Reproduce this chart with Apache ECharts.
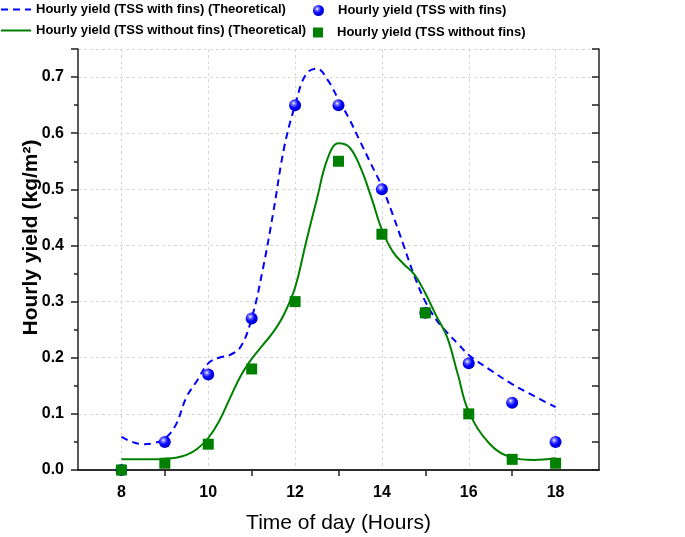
<!DOCTYPE html>
<html>
<head>
<meta charset="utf-8">
<script src="https://cdn.jsdelivr.net/npm/echarts@6/dist/echarts.min.js"></script>
<style>html,body{margin:0;padding:0;background:#fff}#c{width:685px;height:537px}</style>
</head>
<body>
<div id="c"></div>
<script>
// ---- data ----
const hours = [8, 9, 10, 11, 12, 13, 14, 15, 16, 17, 18];
const yieldWithFins = [0, 0.05, 0.17, 0.27, 0.65, 0.65, 0.50, 0.28, 0.19, 0.12, 0.05];
const yieldWithoutFins = [0, 0.012, 0.046, 0.18, 0.30, 0.55, 0.42, 0.28, 0.10, 0.019, 0.012];

const theoHours = [8, 8.25, 8.5, 8.75, 9, 9.25, 9.5, 9.75, 10, 10.25, 10.5, 10.75, 11, 11.25, 11.5, 11.75,
  12, 12.25, 12.5, 12.75, 13, 13.25, 13.5, 13.75, 14, 14.25, 14.5, 14.75, 15, 15.25, 15.5, 15.75,
  16, 16.5, 17, 17.5, 18];
const theoWithFins = [0.059, 0.050, 0.046, 0.048, 0.056, 0.08, 0.13, 0.16, 0.19, 0.20, 0.205, 0.22,
  0.27, 0.355, 0.46, 0.575, 0.65, 0.705, 0.715, 0.695, 0.66, 0.625, 0.585, 0.545, 0.505, 0.455,
  0.40, 0.345, 0.30, 0.268, 0.245, 0.225, 0.205, 0.178, 0.153, 0.132, 0.112];
const theoWithoutFins = [0.019, 0.019, 0.019, 0.019, 0.02, 0.022, 0.027, 0.038, 0.057, 0.087, 0.128,
  0.168, 0.198, 0.222, 0.246, 0.278, 0.325, 0.405, 0.482, 0.555, 0.582, 0.575, 0.54, 0.487, 0.428,
  0.389, 0.367, 0.348, 0.315, 0.275, 0.237, 0.170, 0.104, 0.045, 0.022, 0.018, 0.021];

const xLabelValues = [8, 10, 12, 14, 16, 18];
const xTickValues = [9, 11, 13, 15, 17];

const names = {
  theoFins: 'Hourly yield (TSS with fins) (Theoretical)',
  theoNoFins: 'Hourly yield (TSS without fins) (Theoretical)',
  fins: 'Hourly yield (TSS with fins)',
  noFins: 'Hourly yield (TSS without fins)'
};

// ---- chart ----
const FONT = 'Liberation Sans, Arial, sans-serif';
const pair = (xs, ys) => xs.map((x, i) => [x, ys[i]]);
const sphere = {
  type: 'radial', x: 0.38, y: 0.35, r: 0.65,
  colorStops: [
    { offset: 0, color: '#ffffff' },
    { offset: 0.22, color: '#7777ff' },
    { offset: 0.6, color: '#0000ff' },
    { offset: 1, color: '#0000c8' }
  ]
};
const legendText = { fontFamily: FONT, fontWeight: 'bold', fontSize: 13, color: '#000' };
const axisLineStyle = { color: '#222', width: 1.5 };
const chart = echarts.init(document.getElementById('c'), null, { renderer: 'canvas' });
chart.setOption({
  animation: false,
  backgroundColor: '#fff',
  grid: { left: 78, right: 86, top: 49, bottom: 67, containLabel: false, outerBoundsMode: 'none' },
  legend: [
    { data: [names.theoFins], left: 0, top: 3, padding: 0, itemWidth: 30, itemHeight: 12,
      itemStyle: { opacity: 0 }, textStyle: legendText },
    { data: [names.theoNoFins], left: 0, top: 24, padding: 0, itemWidth: 30, itemHeight: 12,
      itemStyle: { opacity: 0 }, textStyle: legendText },
    { data: [names.fins], left: 313, top: 4, padding: 0, itemWidth: 11, itemHeight: 11,
      textStyle: Object.assign({ padding: [0, 0, 0, 9] }, legendText) },
    { data: [names.noFins], left: 313, top: 26, padding: 0, itemWidth: 10, itemHeight: 10,
      textStyle: Object.assign({ padding: [0, 0, 0, 9] }, legendText) }
  ],
  xAxis: [
    {
      type: 'value', position: 'bottom', min: 7, max: 19, interval: 1,
      name: 'Time of day (Hours)', nameLocation: 'middle', nameGap: 43, nameMoveOverlap: false,
      nameTextStyle: { fontFamily: FONT, fontSize: 21, color: '#000' },
      axisLine: { lineStyle: axisLineStyle },
      axisTick: { show: true, inside: false, length: 6, customValues: xTickValues, lineStyle: axisLineStyle },
      axisLabel: { customValues: xLabelValues, margin: 15, fontFamily: FONT, fontWeight: 'bold', fontSize: 16, color: '#000' },
      splitLine: { show: false }
    },
    {
      type: 'value', position: 'top', min: 7, max: 19, interval: 1,
      axisLine: { lineStyle: axisLineStyle },
      axisTick: { show: true, inside: true, length: 6, customValues: xTickValues, lineStyle: axisLineStyle },
      axisLabel: { show: false },
      splitLine: { show: false }
    },
    {
      type: 'value', position: 'bottom', min: 7, max: 19, interval: 1,
      axisLine: { show: false },
      axisTick: { show: false, customValues: xLabelValues },
      axisLabel: { show: false, customValues: xLabelValues },
      splitLine: { show: true, lineStyle: { color: '#d8d8d8', type: [3, 3], width: 1 } }
    }
  ],
  yAxis: [
    {
      type: 'value', position: 'left', min: 0, max: 0.75, interval: 0.1,
      name: 'Hourly yield (kg/m\u00B2)', nameLocation: 'middle', nameGap: 36, nameMoveOverlap: false,
      nameTextStyle: { fontFamily: FONT, fontWeight: 'bold', fontSize: 21, color: '#000', padding: [0, 0, 0, 44] },
      axisLine: { show: true, lineStyle: axisLineStyle },
      axisTick: { show: true, inside: false, length: 7, lineStyle: axisLineStyle },
      minorTick: { show: true, splitNumber: 2, length: 4, lineStyle: axisLineStyle },
      axisLabel: {
        margin: 14, fontFamily: FONT, fontWeight: 'bold', fontSize: 16, color: '#000', showMaxLabel: false,
        formatter: v => (Math.abs(v * 10 - Math.round(v * 10)) < 1e-6 ? v.toFixed(1) : '')
      },
      splitLine: { show: true, lineStyle: { color: '#d8d8d8', type: [3, 3], width: 1 } }
    },
    {
      type: 'value', position: 'right', min: 0, max: 0.75, interval: 0.05,
      axisLine: { show: true, lineStyle: axisLineStyle },
      axisTick: { show: true, inside: true, length: 7, lineStyle: axisLineStyle },
      axisLabel: { show: false },
      splitLine: { show: false }
    }
  ],
  series: [
    {
      name: names.theoFins, type: 'line', xAxisIndex: 0, yAxisIndex: 0,
      data: pair(theoHours, theoWithFins), smooth: 0.4, symbol: 'none', showSymbol: false,
      lineStyle: { color: '#0000ff', width: 2, type: [7, 5] }, itemStyle: { color: '#0000ff' }, z: 3
    },
    {
      name: names.theoNoFins, type: 'line', xAxisIndex: 0, yAxisIndex: 0,
      data: pair(theoHours, theoWithoutFins), smooth: 0.4, symbol: 'none', showSymbol: false,
      lineStyle: { color: '#008000', width: 2, type: 'solid' }, itemStyle: { color: '#008000' }, z: 3
    },
    {
      name: names.fins, type: 'scatter', xAxisIndex: 0, yAxisIndex: 0,
      data: pair(hours, yieldWithFins), symbol: 'circle', symbolSize: 12,
      itemStyle: { color: sphere, opacity: 1 }, z: 4
    },
    {
      name: names.noFins, type: 'scatter', xAxisIndex: 0, yAxisIndex: 0,
      data: pair(hours, yieldWithoutFins), symbol: 'rect', symbolSize: 11,
      itemStyle: { color: '#008000', opacity: 1 }, z: 5
    }
  ]
});
</script>
</body>
</html>
